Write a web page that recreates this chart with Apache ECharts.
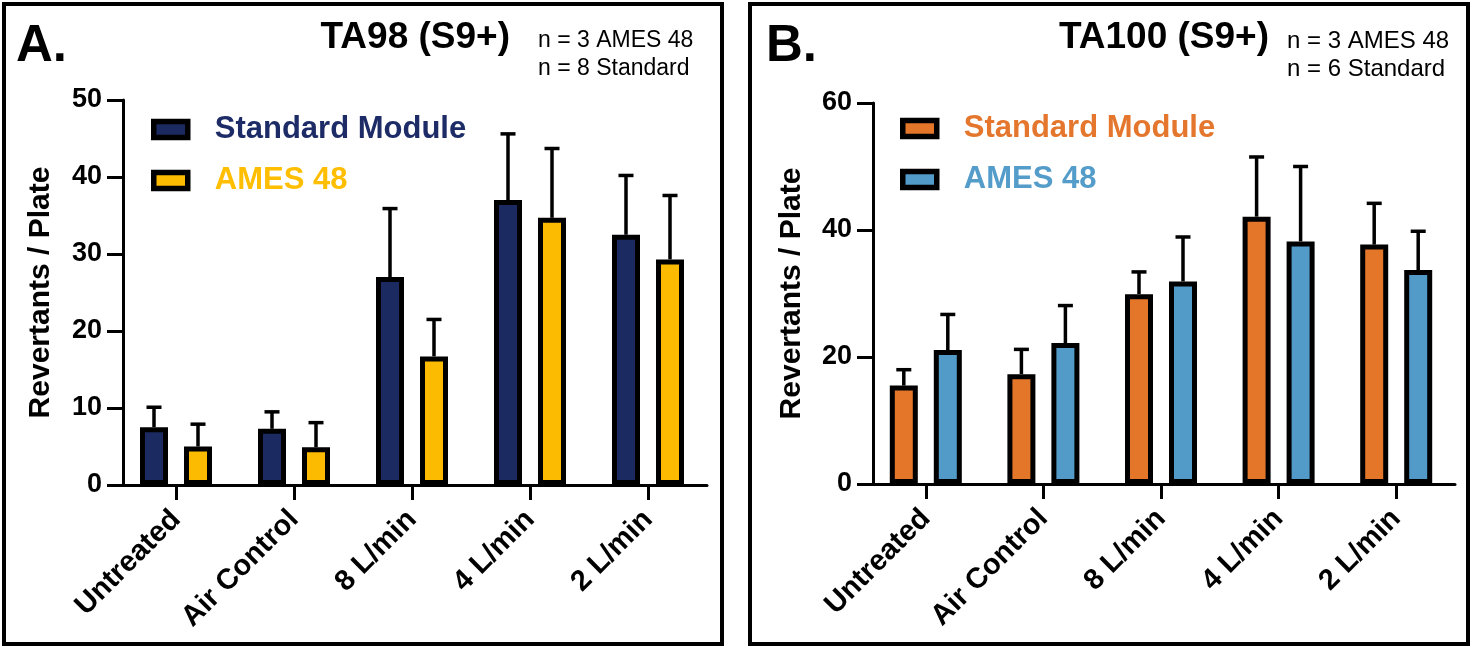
<!DOCTYPE html>
<html><head><meta charset="utf-8">
<script src="https://cdn.jsdelivr.net/npm/echarts@6.0.0/dist/echarts.min.js"></script>
<style>html,body{margin:0;padding:0;background:#fff}#c{width:1473px;height:648px}</style>
</head><body><div id="c"></div>
<script>
const categories = ['Untreated', 'Air Control', '8 L/min', '4 L/min', '2 L/min'];
const seriesNames = ['Standard Module', 'AMES 48'];
// Panel A: TA98 (S9+)  (mean and upper error)
const ta98StdMean  = [7.5, 7.3, 27.0, 37.0, 32.5];
const ta98StdErr   = [2.6, 2.2, 8.9, 8.6, 7.7];
const ta98AmesMean = [5.0, 4.9, 16.7, 34.7, 29.3];
const ta98AmesErr  = [2.9, 3.2, 4.8, 9.0, 8.3];
const ta98Ticks    = [0, 10, 20, 30, 40, 50];
// Panel B: TA100 (S9+)
const ta100StdMean  = [15.5, 17.3, 29.9, 42.1, 37.7];
const ta100StdErr   = [2.5, 3.9, 3.5, 9.4, 6.5];
const ta100AmesMean = [21.1, 22.2, 31.9, 38.2, 33.7];
const ta100AmesErr  = [5.6, 5.9, 7.0, 11.8, 6.1];
const ta100Ticks    = [0, 20, 40, 60];

const FONT = '"Liberation Sans", Arial, Helvetica, sans-serif';
const BAR_W = 28, GAP = 16 / 28;
const OFF = BAR_W * (1 + GAP) / 2;

const navy = '#1B2A60', gold = '#FCBA00', orange = '#E4762A', blue = '#529BC8';

function errRender(offset) {
  return function (params, api) {
    const i = api.value(0), m = api.value(1), e = api.value(2);
    const p0 = api.coord([i, m]);
    const p1 = api.coord([i, m + e]);
    const x = p0[0] + offset;
    return {
      type: 'group', children: [
        { type: 'line', shape: { x1: x, y1: p0[1], x2: x, y2: p1[1] }, style: { stroke: '#000', lineWidth: 3.5 } },
        { type: 'line', shape: { x1: x - 7.5, y1: p1[1], x2: x + 7.5, y2: p1[1] }, style: { stroke: '#000', lineWidth: 3.5 } }
      ]
    };
  };
}

function xAxisDef(gridIndex) {
  return {
    type: 'category', gridIndex, data: categories,
    axisLine: { show: true, lineStyle: { color: '#000', width: 3 } },
    axisTick: { show: true, alignWithLabel: true, length: 15, lineStyle: { color: '#000', width: 3 } },
    axisLabel: { interval: 0, rotate: 45, margin: 30, color: '#000', fontFamily: FONT, fontWeight: 'bold', fontSize: 29 },
    splitLine: { show: false }
  };
}
function yAxisDef(gridIndex, ticks, gap) {
  return {
    type: 'value', gridIndex, min: ticks[0], max: ticks[ticks.length - 1], interval: ticks[1] - ticks[0],
    offset: -6,
    name: 'Revertants / Plate', nameLocation: 'middle', nameGap: gap,
    nameTextStyle: { color: '#000', fontFamily: FONT, fontWeight: 'bold', fontSize: 30 },
    axisLine: { show: true, lineStyle: { color: '#000', width: 3 } },
    axisTick: { show: true, length: 16, lineStyle: { color: '#000', width: 3 } },
    axisLabel: { margin: 21, color: '#000', fontFamily: FONT, fontWeight: 'bold', fontSize: 27 },
    splitLine: { show: false }
  };
}
function barSeries(name, axis, values, color) {
  return {
    type: 'bar', name, xAxisIndex: axis, yAxisIndex: axis, data: values,
    barWidth: BAR_W, barGap: (GAP * 100) + '%', z: 2,
    itemStyle: { color, borderColor: '#000', borderWidth: 5 }
  };
}
function errSeries(axis, means, errs, offset) {
  return {
    type: 'custom', xAxisIndex: axis, yAxisIndex: axis, z: 1,
    renderItem: errRender(offset),
    encode: { x: 0, y: 1 },
    data: categories.map((c, i) => [i, means[i], errs[i]])
  };
}
function legendAt(left, top, name, fill, textColor) {
  return {
    left, top, padding: 0, selectedMode: false, itemWidth: 34, itemHeight: 16, icon: 'rect',
    data: [{ name, icon: 'rect', itemStyle: { color: fill, borderColor: '#000', borderWidth: 5.5 }, textStyle: { color: textColor } }],
    textStyle: { fontFamily: FONT, fontWeight: 'bold', fontSize: 31, padding: [0, 0, 0, 22] }
  };
}
function txt(x, y, text, size, bold, align) {
  return {
    type: 'text', x, y, silent: true,
    style: { text, fill: '#000', fontFamily: FONT, fontSize: size, fontWeight: bold ? 'bold' : 'normal', align: align || 'left', verticalAlign: 'middle' }
  };
}

const chart = echarts.init(document.getElementById('c'), null, { renderer: 'canvas' });
chart.setOption({
  animation: false,
  backgroundColor: '#fff',
  grid: [
    { left: 117, top: 100, width: 590, height: 385 },
    { left: 867, top: 103, width: 588, height: 381 }
  ],
  xAxis: [xAxisDef(0), xAxisDef(1)],
  yAxis: [yAxisDef(0, ta98Ticks, 67), yAxisDef(1, ta100Ticks, 66)],
  legend: [
    legendAt(151, 114, seriesNames[0], navy, '#1D2C66'),
    legendAt(151, 165, seriesNames[1], gold, '#FFBE00'),
    legendAt(900, 113, seriesNames[0], orange, '#E4772D'),
    legendAt(900, 164, seriesNames[1], blue, '#549CC9')
  ],
  series: [
    barSeries(seriesNames[0], 0, ta98StdMean, navy),
    barSeries(seriesNames[1], 0, ta98AmesMean, gold),
    errSeries(0, ta98StdMean, ta98StdErr, -OFF),
    errSeries(0, ta98AmesMean, ta98AmesErr, OFF),
    barSeries(seriesNames[0], 1, ta100StdMean, orange),
    barSeries(seriesNames[1], 1, ta100AmesMean, blue),
    errSeries(1, ta100StdMean, ta100StdErr, -OFF),
    errSeries(1, ta100AmesMean, ta100AmesErr, OFF)
  ],
  graphic: [
    { type: 'rect', silent: true, shape: { x: 4, y: 4, width: 718, height: 640 }, style: { fill: 'none', stroke: '#000', lineWidth: 4 } },
    { type: 'rect', silent: true, shape: { x: 750, y: 4, width: 718, height: 640 }, style: { fill: 'none', stroke: '#000', lineWidth: 4 } },
    txt(16, 47, 'A.', 51, true),
    txt(510, 38, 'TA98 (S9+)', 37, true, 'right'),
    txt(538, 41, 'n = 3 AMES 48', 23, false),
    txt(538, 69, 'n = 8 Standard', 23, false),
    txt(766, 47, 'B.', 51, true),
    txt(1269, 38, 'TA100 (S9+)', 37, true, 'right'),
    txt(1287, 41, 'n = 3 AMES 48', 24, false),
    txt(1287, 69, 'n = 6 Standard', 24, false)
  ]
});
</script></body></html>
